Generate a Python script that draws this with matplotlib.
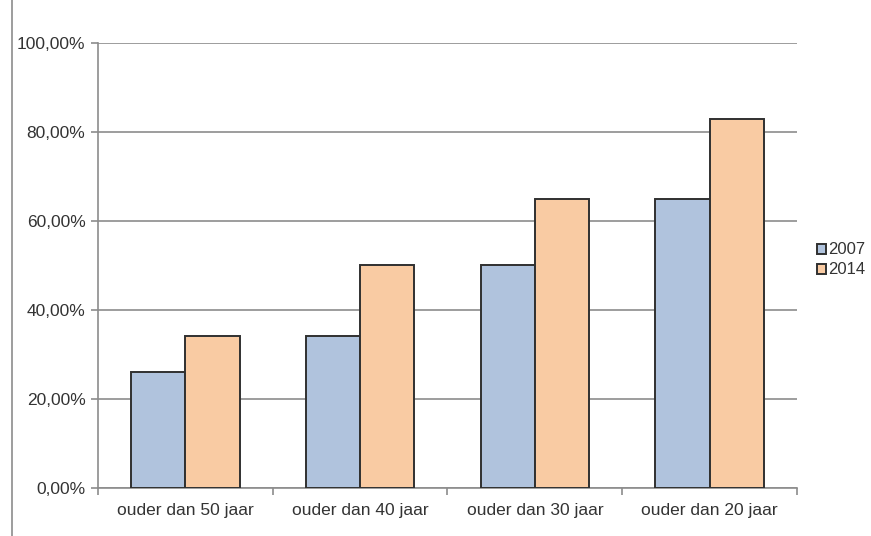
import numpy as np
import matplotlib.pyplot as plt
from matplotlib.lines import Line2D
from matplotlib.ticker import FuncFormatter

categories = ['ouder dan 50 jaar', 'ouder dan 40 jaar', 'ouder dan 30 jaar', 'ouder dan 20 jaar']
series_names = ['2007', '2014']
values_2007 = [26.0, 34.2, 50.0, 65.0]
values_2014 = [34.2, 50.0, 65.0, 83.0]
y_ticks = [0, 20, 40, 60, 80, 100]

plt.rcParams['font.family'] = ['Liberation Sans', 'DejaVu Sans']
text_color = '#333333'

fig = plt.figure(figsize=(8.71, 5.36), dpi=100)
ax = fig.add_axes([0.1125, 0.0896, 0.8025, 0.8302])

x = np.arange(len(categories))
width = 0.31
ax.bar(x - width / 2, values_2007, width, color='#b0c3dd', edgecolor='#303030',
       linewidth=1.4, label=series_names[0], zorder=3)
ax.bar(x + width / 2, values_2014, width, color='#f9cba3', edgecolor='#303030',
       linewidth=1.4, label=series_names[1], zorder=3)

ax.set_xlim(-0.5, len(categories) - 0.5)
ax.set_ylim(0, 100)
ax.set_yticks(y_ticks)
ax.yaxis.set_major_formatter(FuncFormatter(lambda v, p: '{:.2f}%'.format(v).replace('.', ',')))
ax.grid(axis='y', color='#8c8c8c', linewidth=1.2, zorder=0)

# category labels at group centres, tick marks between groups
ax.set_xticks(x)
ax.set_xticklabels(categories, fontsize=12.5, color=text_color)
ax.set_xticks(np.arange(-0.5, len(categories)), minor=True)
ax.tick_params(axis='x', which='major', length=0, pad=11)
ax.tick_params(axis='x', which='minor', length=5, color='#8c8c8c', width=1.2, direction='out')
ax.tick_params(axis='y', length=5, color='#8c8c8c', width=1.2, labelsize=12.5,
               labelcolor=text_color, pad=4)

for side in ['top', 'right']:
    ax.spines[side].set_visible(False)
ax.spines['left'].set_color('#8c8c8c')
ax.spines['left'].set_linewidth(1.2)
ax.spines['bottom'].set_color('#8c8c8c')
ax.spines['bottom'].set_linewidth(1.2)

leg = fig.legend(loc='center left', bbox_to_anchor=(0.932, 0.515), frameon=False,
                 fontsize=12, handlelength=0.55, handleheight=0.55, handletextpad=0.15,
                 labelspacing=0.3, borderpad=0.2, borderaxespad=0.1)
for t in leg.get_texts():
    t.set_color(text_color)

# thin frame line along the left edge
fig.add_artist(Line2D([0.0138, 0.0138], [0, 1], transform=fig.transFigure,
                      color='#8c8c8c', linewidth=1.2))

fig.savefig('out.png', dpi=100)
